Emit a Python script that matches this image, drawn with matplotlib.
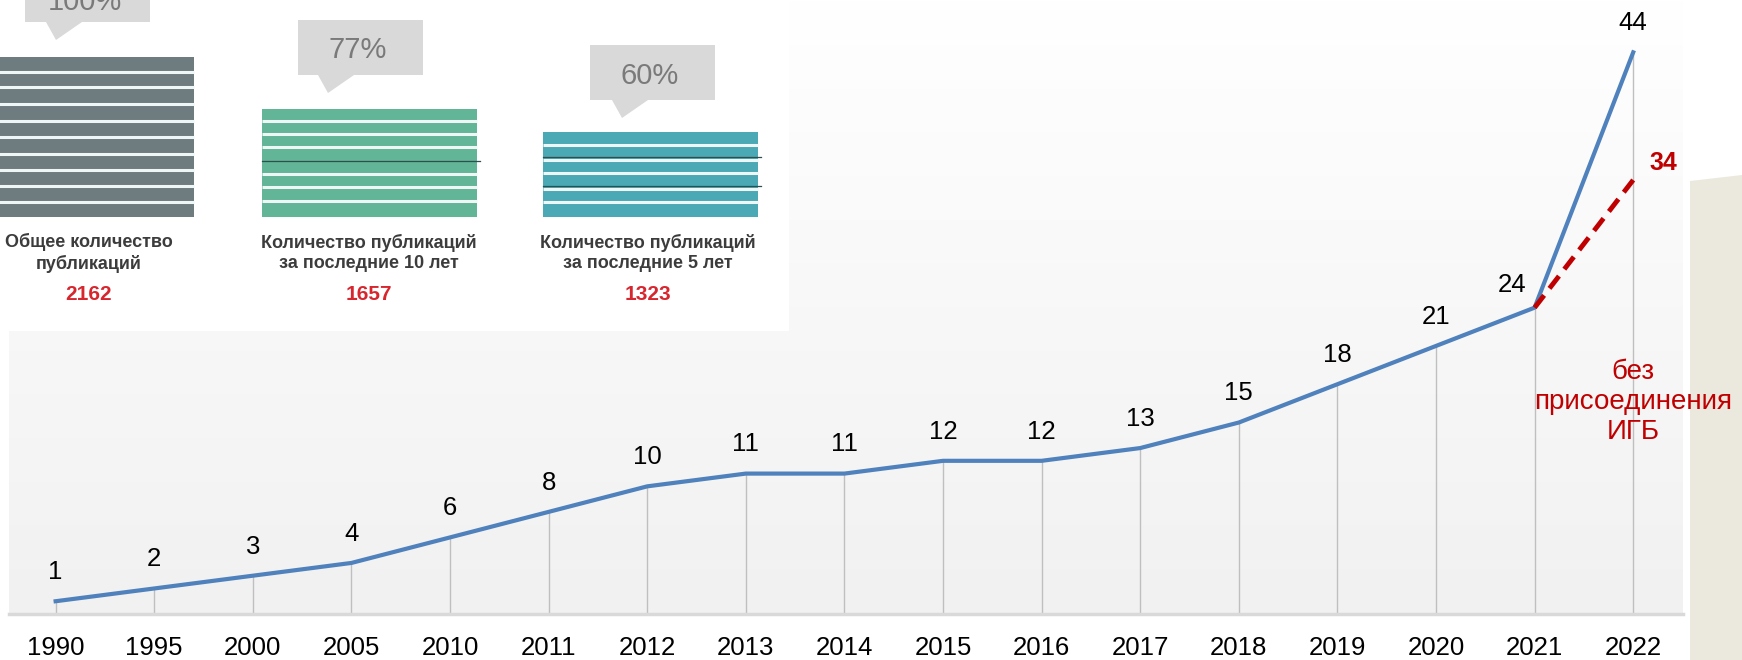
import matplotlib.pyplot as plt
import numpy as np
from matplotlib.patches import Rectangle, Polygon

plt.rcParams['font.family'] = ['Liberation Sans', 'DejaVu Sans']

# main series
years = ['1990', '1995', '2000', '2005', '2010', '2011', '2012', '2013', '2014',
         '2015', '2016', '2017', '2018', '2019', '2020', '2021', '2022']
pubs = [1, 2, 3, 4, 6, 8, 10, 11, 11, 12, 12, 13, 15, 18, 21, 24, 44]
# scenario without IGB merger (2021 -> 2022)
alt_years = ['2021', '2022']
alt_pubs = [24, 34]
alt_note = 'без\nприсоединения\nИГБ'

# inset pictogram
inset_titles = ['Общее количество\nпубликаций',
                'Количество публикаций\nза последние 10 лет',
                'Количество публикаций\nза последние 5 лет']
inset_counts = [2162, 1657, 1323]
inset_pct = ['100%', '77%', '60%']

W, H = 1742, 660
fig = plt.figure(figsize=(W / 100, H / 100), dpi=100)

# background layer (beige panel at the right)
bg = fig.add_axes([0, 0, 1, 1])
bg.set_xlim(0, W)
bg.set_ylim(H, 0)
bg.axis('off')
bg.add_patch(Polygon([(1690, 181), (W, 175), (W, H), (1690, H)],
                     closed=True, color='#ebe8de', lw=0))

# main chart
ax = fig.add_axes([9 / W, 46 / H, (1683 - 9) / W, (H - 46) / H])
ax.set_zorder(2)
x = np.arange(len(years))
ax.set_xlim(-0.473, 16.505)
ax.set_ylim(0, 48.1)

grad = np.linspace(1, 0, 256).reshape(-1, 1)
ax.imshow(grad, extent=[-0.473, 16.505, 0, 48.1], aspect='auto',
          cmap=plt.matplotlib.colors.LinearSegmentedColormap.from_list(
              'g', ['#f1f1f1', '#ffffff']), origin='upper', zorder=0)

ax.vlines(x, 0, pubs, color='#bfbfbf', lw=1, zorder=1)
ax.plot(x, pubs, color='#4f81bd', lw=3, solid_joinstyle='round', zorder=3)

alt_x = [years.index(y) for y in alt_years]
ax.plot(alt_x, alt_pubs, color='#c00000', lw=3.5, ls=(0, (3.2, 1.8)), zorder=4)

for xi, v in zip(x, pubs):
    dx = -16 if years[xi] == '2021' else 0
    dy = 16 if years[xi] == '2021' else 21
    ax.annotate(str(v), (xi, v), xytext=(dx, dy), textcoords='offset points',
                ha='center', va='center', fontsize=18.5, color='black')

ax.annotate(str(alt_pubs[-1]), (alt_x[-1], alt_pubs[-1]), xytext=(22, 12),
            textcoords='offset points', ha='center', va='center',
            fontsize=18, fontweight='bold', color='#c00000')
ax.text(alt_x[-1], 16.6, alt_note, ha='center', va='center', fontsize=20,
        color='#c00000', linespacing=1.2)

ax.set_xticks(x)
ax.set_xticklabels(years, fontsize=18.5)
ax.set_yticks([])
ax.tick_params(axis='x', length=0, pad=16)
for s in ['top', 'left', 'right']:
    ax.spines[s].set_visible(False)
ax.spines['bottom'].set_color('#d9d9d9')
ax.spines['bottom'].set_linewidth(2.5)

# overlay with the inset pictogram
ov = fig.add_axes([0, 0, 1, 1])
ov.set_zorder(5)
ov.set_xlim(0, W)
ov.set_ylim(H, 0)
ov.axis('off')
ov.patch.set_alpha(0)

ov.add_patch(Rectangle((0, 0), 789, 331, color='white', lw=0))

bar_left = [-5, 262, 543]
bar_width = [199, 215, 215]
bar_top = [57, 109, 132]
bar_base = 217
bar_col = ['#6e7c80', '#62b596', '#4aa9b5']
stripes = [[72, 87, 104, 121, 137, 154, 170, 186, 202],
           [121, 134, 147, 174, 187, 201],
           [145, 160, 173, 189, 202]]
dark = [[], [161], [157, 186]]
ov.bar(bar_left, [bar_base - t for t in bar_top], width=bar_width, bottom=bar_top,
       align='edge', color=bar_col, lw=0)
for i in range(3):
    for yy in stripes[i]:
        ov.plot([bar_left[i], bar_left[i] + bar_width[i]], [yy, yy],
                color='#eef7f6', lw=2.2, solid_capstyle='butt')
    for yy in dark[i]:
        ov.plot([bar_left[i], bar_left[i] + bar_width[i] + 3], [yy, yy],
                color='#2f4f4f', lw=0.9)

box_x = [25, 298, 590]
box_y = [-25, 20, 45]
box_w = 125
box_h = [47, 55, 55]
tip = [(56, 40), (328, 93), (622, 118)]
title_x = [89, 369, 648]
for i in range(3):
    ov.add_patch(Rectangle((box_x[i], box_y[i]), box_w, box_h[i],
                           color='#d9d9d9', lw=0))
    yb = box_y[i] + box_h[i]
    ov.add_patch(Polygon([(tip[i][0] - 10, yb), (tip[i][0] + 26, yb), tip[i]],
                         closed=True, color='#d9d9d9', lw=0))
    ov.text(box_x[i] + box_w / 2 - 3, box_y[i] + box_h[i] / 2 + 3, inset_pct[i],
            ha='center', va='center', fontsize=21, color='#7a7a7a')
    ov.text(title_x[i], 253, inset_titles[i], ha='center', va='center',
            fontsize=13, fontweight='bold', color='#3c3c3c', linespacing=1.25)
    ov.text(title_x[i], 294, str(inset_counts[i]), ha='center', va='center',
            fontsize=15, fontweight='bold', color='#d7262e')

fig.savefig('out.png', dpi=100)
